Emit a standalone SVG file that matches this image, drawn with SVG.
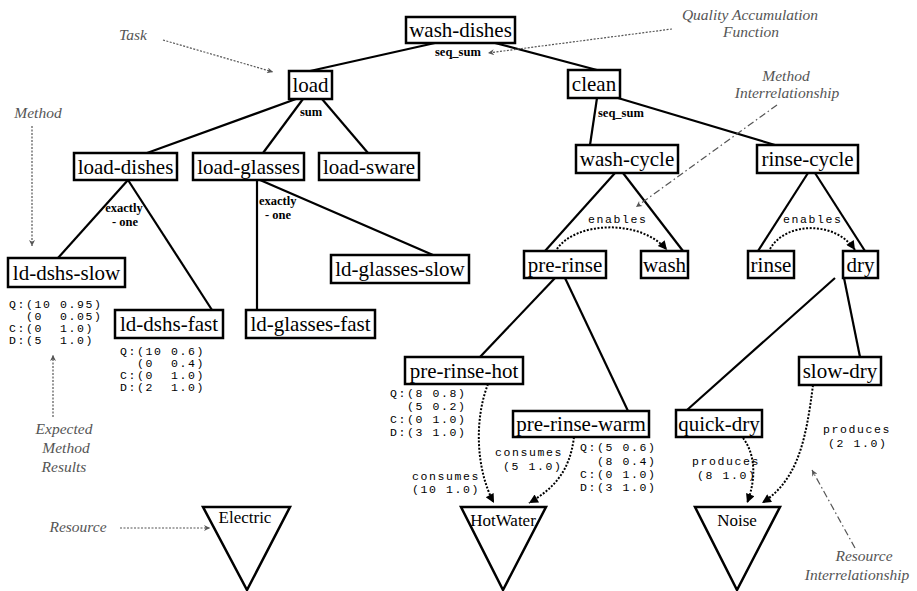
<svg xmlns="http://www.w3.org/2000/svg" width="917" height="591" viewBox="0 0 917 591">
<style>
.box{fill:#fff;stroke:#000;stroke-width:2.5}
.nt{font-family:"Liberation Serif",serif;font-size:21px;text-anchor:middle;fill:#000}
.edge{stroke:#000;stroke-width:2.2;fill:none}
.lbl{font-family:"Liberation Serif",serif;font-size:12.5px;font-weight:bold;fill:#000}
.mono{font-family:"Liberation Mono",monospace;font-size:11.5px;letter-spacing:1.6px;fill:#000;white-space:pre}
.dot{stroke:#000;stroke-width:2;fill:none;stroke-dasharray:2 1.6}
.ann{font-family:"Liberation Serif",serif;font-style:italic;font-size:15.5px;fill:#555;text-anchor:middle}
.al{stroke:#555;stroke-width:1.2;fill:none;stroke-dasharray:2 1.5}
.ad{stroke:#555;stroke-width:1.2;fill:none;stroke-dasharray:7 3 1.5 3}
.tri{fill:#fff;stroke:#000;stroke-width:2.5}
.tt{font-family:"Liberation Serif",serif;font-size:17px;text-anchor:middle;fill:#000}
</style>
<defs>
<marker id="ah" viewBox="0 0 10 10" refX="10" refY="5" markerWidth="11" markerHeight="9" markerUnits="userSpaceOnUse" orient="auto"><path d="M0,0 L10,5 L0,10 z" fill="#000"/></marker>
<marker id="aa" viewBox="0 0 10 10" refX="10" refY="5" markerWidth="8" markerHeight="6" markerUnits="userSpaceOnUse" orient="auto"><path d="M0,0 L10,5 L0,10 L3,5 z" fill="#555"/></marker>
</defs>
<rect width="917" height="591" fill="#fff"/>

<g id="connectors">
<line class="edge" x1="435" y1="43" x2="310" y2="71"/>
<line class="edge" x1="495" y1="43" x2="597" y2="70"/>
<line class="edge" x1="296" y1="99" x2="147" y2="153"/>
<line class="edge" x1="303" y1="99" x2="263" y2="153"/>
<line class="edge" x1="322" y1="99" x2="368" y2="153"/>
<line class="edge" x1="128" y1="180" x2="58" y2="258"/>
<line class="edge" x1="128" y1="180" x2="212" y2="310"/>
<line class="edge" x1="257" y1="180" x2="257" y2="310"/>
<line class="edge" x1="260" y1="180" x2="433" y2="255"/>
<line class="edge" x1="597" y1="98" x2="590" y2="145"/>
<line class="edge" x1="618" y1="98" x2="775" y2="145"/>
<line class="edge" x1="615" y1="173" x2="545" y2="251"/>
<line class="edge" x1="623" y1="173" x2="683" y2="251"/>
<line class="edge" x1="808" y1="173" x2="758" y2="251"/>
<line class="edge" x1="815" y1="173" x2="865" y2="251"/>
<line class="edge" x1="555" y1="278" x2="480" y2="357"/>
<line class="edge" x1="565" y1="278" x2="628" y2="411"/>
<line class="edge" x1="835" y1="278" x2="687" y2="410"/>
<line class="edge" x1="844" y1="278" x2="860" y2="357"/>
<path class="dot" d="M557,249 C575,222 640,218 667,250" marker-end="url(#ah)"/>
<path class="dot" d="M770,249 C785,222 835,220 855,250" marker-end="url(#ah)"/>
<path class="dot" d="M488,384 C474,420 476,470 494,503" marker-end="url(#ah)"/>
<path class="dot" d="M574,437 C570,470 555,488 529,503" marker-end="url(#ah)"/>
<path class="dot" d="M743,438 C756,455 756,480 747,503" marker-end="url(#ah)"/>
<path class="dot" d="M813,385 C806,440 798,480 762,503" marker-end="url(#ah)"/>
</g>

<g id="edge-labels">
<text class="lbl" x="435" y="56">seq_sum</text>
<text class="lbl" x="311" y="116" text-anchor="middle">sum</text>
<text class="lbl" x="598" y="117">seq_sum</text>
<text class="lbl" x="124" y="212" text-anchor="middle">exactly</text>
<text class="lbl" x="125" y="226" text-anchor="middle">- one</text>
<text class="lbl" x="259" y="205">exactly</text>
<text class="lbl" x="265" y="219">- one</text>
<text class="mono" x="588" y="223">enables</text>
<text class="mono" x="783" y="223">enables</text>
<text class="mono" x="412" y="480">consumes</text>
<text class="mono" x="412" y="493">(10 1.0)</text>
<text class="mono" x="495" y="456">consumes</text>
<text class="mono" x="503" y="470">(5 1.0)</text>
<text class="mono" x="692" y="465">produces</text>
<text class="mono" x="697" y="479">(8 1.0)</text>
<text class="mono" x="823" y="433">produces</text>
<text class="mono" x="828" y="447">(2 1.0)</text>
</g>

<g id="wash-dishes"><rect class="box" x="406" y="17" width="109" height="26"/><text class="nt" x="460.5" y="37">wash-dishes</text></g>
<g id="load"><rect class="box" x="289" y="71" width="43" height="28"/><text class="nt" x="310.5" y="92">load</text></g>
<g id="clean"><rect class="box" x="568" y="70" width="52" height="28"/><text class="nt" x="594" y="91">clean</text></g>
<g id="load-dishes"><rect class="box" x="74" y="153" width="103" height="27"/><text class="nt" x="125.5" y="174">load-dishes</text></g>
<g id="load-glasses"><rect class="box" x="193" y="153" width="111" height="27"/><text class="nt" x="248.5" y="174">load-glasses</text></g>
<g id="load-sware"><rect class="box" x="319" y="153" width="100" height="27"/><text class="nt" x="369" y="174">load-sware</text></g>
<g id="wash-cycle"><rect class="box" x="576" y="145" width="102" height="28"/><text class="nt" x="627" y="166">wash-cycle</text></g>
<g id="rinse-cycle"><rect class="box" x="757" y="145" width="101" height="28"/><text class="nt" x="807.5" y="166">rinse-cycle</text></g>
<g id="ld-dshs-slow"><rect class="box" x="8" y="258" width="117" height="29"/><text class="nt" x="66.5" y="280">ld-dshs-slow</text>
<text class="mono" x="9" y="308">Q:(10 0.95)</text><text class="mono" x="9" y="320">  (0  0.05)</text><text class="mono" x="9" y="332">C:(0  1.0)</text><text class="mono" x="9" y="344">D:(5  1.0)</text></g>
<g id="ld-dshs-fast"><rect class="box" x="115" y="310" width="108" height="28"/><text class="nt" x="169" y="331">ld-dshs-fast</text>
<text class="mono" x="120" y="355">Q:(10 0.6)</text><text class="mono" x="120" y="367">  (0  0.4)</text><text class="mono" x="120" y="379">C:(0  1.0)</text><text class="mono" x="120" y="391">D:(2  1.0)</text></g>
<g id="ld-glasses-fast"><rect class="box" x="246" y="310" width="129" height="28"/><text class="nt" x="310.5" y="331">ld-glasses-fast</text></g>
<g id="ld-glasses-slow"><rect class="box" x="331" y="255" width="138" height="28"/><text class="nt" x="400" y="276">ld-glasses-slow</text></g>
<g id="pre-rinse"><rect class="box" x="524" y="251" width="82" height="27"/><text class="nt" x="565" y="272">pre-rinse</text></g>
<g id="wash"><rect class="box" x="641" y="251" width="47" height="27"/><text class="nt" x="664.5" y="272">wash</text></g>
<g id="rinse"><rect class="box" x="748" y="251" width="46" height="27"/><text class="nt" x="771" y="272">rinse</text></g>
<g id="dry"><rect class="box" x="843" y="251" width="35" height="27"/><text class="nt" x="860.5" y="272">dry</text></g>
<g id="pre-rinse-hot"><rect class="box" x="405" y="357" width="118" height="27"/><text class="nt" x="464" y="378">pre-rinse-hot</text>
<text class="mono" x="390" y="397">Q:(8 0.8)</text><text class="mono" x="390" y="410">  (5 0.2)</text><text class="mono" x="390" y="423">C:(0 1.0)</text><text class="mono" x="390" y="436">D:(3 1.0)</text></g>
<g id="pre-rinse-warm"><rect class="box" x="513" y="411" width="136" height="26"/><text class="nt" x="581" y="431">pre-rinse-warm</text>
<text class="mono" x="580" y="451">Q:(5 0.6)</text><text class="mono" x="580" y="465">  (8 0.4)</text><text class="mono" x="580" y="478">C:(0 1.0)</text><text class="mono" x="580" y="491">D:(3 1.0)</text></g>
<g id="quick-dry"><rect class="box" x="676" y="410" width="86" height="27"/><text class="nt" x="719" y="431">quick-dry</text></g>
<g id="slow-dry"><rect class="box" x="799" y="357" width="82" height="28"/><text class="nt" x="840" y="378">slow-dry</text></g>

<g id="Electric"><polygon class="tri" points="203,507 290,507 247,590"/><text class="tt" x="245" y="523">Electric</text></g>
<g id="HotWater"><polygon class="tri" points="461,507 546,507 503,590"/><text class="tt" x="503" y="526">HotWater</text></g>
<g id="Noise"><polygon class="tri" points="695,507 780,507 737,590"/><text class="tt" x="737" y="526">Noise</text></g>

<g id="annotations">
<text class="ann" x="133" y="40">Task</text>
<line class="al" x1="163" y1="40" x2="273" y2="72" marker-end="url(#aa)"/>
<text class="ann" x="38" y="118">Method</text>
<line class="al" x1="32" y1="126" x2="32" y2="246" marker-end="url(#aa)"/>
<text class="ann" x="750" y="20">Quality Accumulation</text>
<text class="ann" x="751" y="37">Function</text>
<line class="al" x1="672" y1="29" x2="488" y2="53" marker-end="url(#aa)"/>
<text class="ann" x="786" y="81">Method</text>
<text class="ann" x="787" y="98">Interrelationship</text>
<line class="ad" x1="777" y1="105" x2="636" y2="207" marker-end="url(#aa)"/>
<text class="ann" x="64" y="434">Expected</text>
<text class="ann" x="66" y="453">Method</text>
<text class="ann" x="64" y="472">Results</text>
<line class="al" x1="53" y1="417" x2="53" y2="355" marker-end="url(#aa)"/>
<text class="ann" x="78" y="532">Resource</text>
<line class="al" x1="120" y1="528" x2="210" y2="528" marker-end="url(#aa)"/>
<text class="ann" x="864" y="561">Resource</text>
<text class="ann" x="857" y="580">Interrelationship</text>
<line class="ad" x1="855" y1="548" x2="812" y2="470" marker-end="url(#aa)"/>
</g>
</svg>
